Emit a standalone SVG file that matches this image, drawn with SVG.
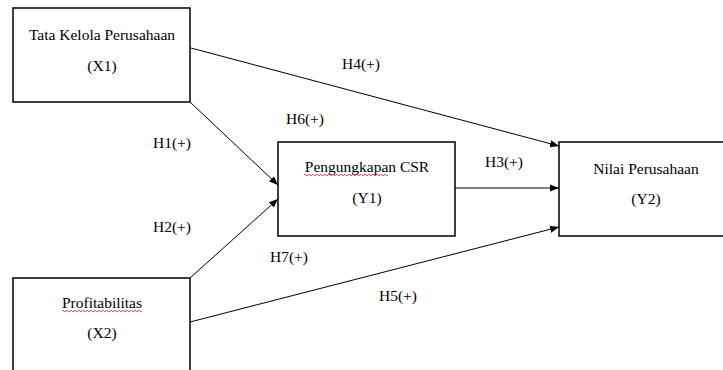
<svg xmlns="http://www.w3.org/2000/svg" width="723" height="370" viewBox="0 0 723 370">
<style>
.box{fill:#fff;stroke:#000;stroke-width:1.5}
.t{font-family:"Liberation Serif","Times New Roman",serif;font-size:15.5px;fill:#000;text-anchor:middle}
.c{stroke:#000;stroke-width:1;fill:none;marker-end:url(#ah)}
.sq{stroke:#e02020;stroke-width:0.8;fill:none}
</style>
<defs>
<marker id="ah" viewBox="0 0 10 10" refX="10" refY="5" markerWidth="9" markerHeight="9" markerUnits="userSpaceOnUse" orient="auto">
<path d="M0,1 L10,5 L0,9 z" fill="#000"/>
</marker>
</defs>
<rect width="723" height="370" fill="#fff"/>
<g id="connectors">
<line class="c" x1="190" y1="102" x2="278" y2="185"/>
<line class="c" x1="190" y1="278" x2="278" y2="199"/>
<line class="c" x1="191" y1="48" x2="559" y2="146"/>
<line class="c" x1="455" y1="188" x2="559" y2="188"/>
<line class="c" x1="190" y1="322" x2="559" y2="227"/>
</g>
<g id="X1">
<rect class="box" x="13" y="8" width="177" height="94"/>
<text class="t" x="102" y="40">Tata Kelola Perusahaan</text>
<text class="t" x="102" y="71">(X1)</text>
</g>
<g id="Y1">
<rect class="box" x="278" y="142" width="177" height="94"/>
<text class="t" x="367" y="172">Pengungkapan CSR</text>
<path class="sq" d="M304,175 q1,-1.5 2,0 t2,0 t2,0 t2,0 t2,0 t2,0 t2,0 t2,0 t2,0 t2,0 t2,0 t2,0 t2,0 t2,0 t2,0 t2,0 t2,0 t2,0 t2,0 t2,0 t2,0 t2,0 t2,0 t2,0 t2,0 t2,0 t2,0 t2,0 t2,0 t2,0 t2,0 t2,0 t2,0 t2,0 t2,0 t2,0 t2,0 t2,0 t2,0 t2,0 t2,0 t2,0"/>
<text class="t" x="367" y="203">(Y1)</text>
</g>
<g id="Y2">
<rect class="box" x="559" y="142" width="170" height="94"/>
<text class="t" x="646" y="174">Nilai Perusahaan</text>
<text class="t" x="646" y="204">(Y2)</text>
</g>
<g id="X2">
<rect class="box" x="13" y="278" width="177" height="100"/>
<text class="t" x="102" y="308">Profitabilitas</text>
<path class="sq" d="M62,311 q1,-1.5 2,0 t2,0 t2,0 t2,0 t2,0 t2,0 t2,0 t2,0 t2,0 t2,0 t2,0 t2,0 t2,0 t2,0 t2,0 t2,0 t2,0 t2,0 t2,0 t2,0 t2,0 t2,0 t2,0 t2,0 t2,0 t2,0 t2,0 t2,0 t2,0 t2,0 t2,0 t2,0 t2,0 t2,0 t2,0 t2,0 t2,0 t2,0 t2,0 t2,0"/>
<text class="t" x="102" y="338">(X2)</text>
</g>
<g id="labels">
<text class="t" x="172" y="148">H1(+)</text>
<text class="t" x="172" y="232">H2(+)</text>
<text class="t" x="504" y="167">H3(+)</text>
<text class="t" x="361" y="69">H4(+)</text>
<text class="t" x="398" y="301">H5(+)</text>
<text class="t" x="305" y="124">H6(+)</text>
<text class="t" x="289" y="262">H7(+)</text>
</g>
</svg>
